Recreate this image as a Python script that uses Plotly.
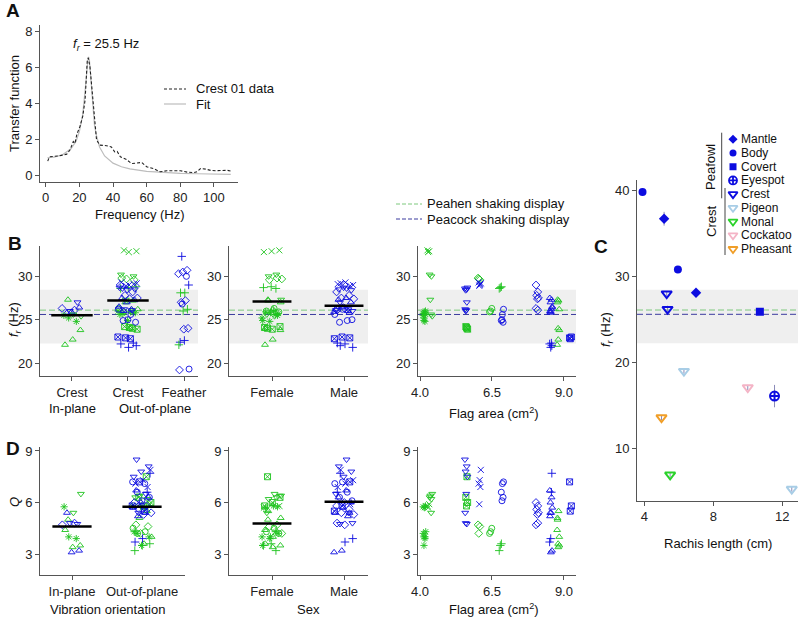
import numpy as np
import plotly.graph_objects as go

W, H = 798, 617
FONT = "Arial, 'Liberation Sans', sans-serif"
GREEN = "#1ec31e"
BLUE = "#0c0ce0"
AXC = "#555555"

# ---- A: transfer function of crest feather 01
freq_data = [1.2, 2.2, 5, 8, 12.5, 14.4, 16.4, 17.4, 18.5, 19.4, 20.4, 22, 23.4, 24.7, 25.3,
             26.3, 27.8, 29.2, 30.2, 32.1, 34.1, 36.1, 39, 41, 42.5, 44.4, 48, 51, 54, 57,
             60, 64, 68, 72, 76, 80, 84, 88, 90, 92, 95, 98, 101, 104, 108, 110]
tf_data = [0.81, 1.05, 1.08, 1.1, 1.2, 1.43, 1.9, 1.8, 2.3, 2.5, 2.75, 3.3, 4.2, 6.4, 6.55,
           6.05, 4.4, 2.7, 2.0, 1.7, 1.7, 1.67, 1.6, 1.33, 1.35, 1.05, 0.9, 0.68, 0.7, 0.74,
           0.5, 0.4, 0.22, 0.28, 0.28, 0.28, 0.2, 0.17, 0.22, 0.4, 0.37, 0.3, 0.28, 0.3, 0.3, 0.26]
freq_fit = [1, 5, 10, 15, 18, 20, 22, 23, 24, 25, 25.5, 26, 27, 28, 29, 30, 32, 35, 40, 45,
            50, 60, 70, 80, 90, 100, 110]
tf_fit = [1.0, 1.03, 1.17, 1.5, 1.9, 2.45, 3.4, 4.2, 5.3, 6.4, 6.6, 6.4, 5.0, 3.6, 2.8, 2.3,
          1.6, 1.1, 0.7, 0.5, 0.38, 0.24, 0.17, 0.13, 0.11, 0.09, 0.08]

# ---- birds (one symbol per individual)
bird_symbol = ["x-thin-open", "triangle-down-open", "asterisk-open", "square-x-open",
               "diamond-open", "circle-open", "cross-thin-open", "triangle-up-open",
               "triangle-down-open", "x-thin-open", "circle-open", "diamond-open",
               "triangle-up-open", "cross-thin-open", "square-x-open"]
bird_sex = ["F"] * 8 + ["M"] * 7
bird_area = [4.29, 4.38, 4.15, 5.62, 6.06, 6.45, 6.8, 8.8,
             5.6, 6.08, 6.86, 8.08, 8.55, 8.55, 9.22]

# ---- crest feather measurements
crest_bird = ([7, 7, 7, 7, 8, 8, 11, 11, 12, 12, 12, 2, 2, 2, 1, 1]
              + [0] * 3 + [1] * 3 + [2] * 6 + [3] * 4 + [4] * 3 + [5] * 3 + [6] * 3 + [7] * 4
              + [8] * 6 + [9] * 5 + [10] * 5 + [11] * 5 + [12] * 6 + [13] * 4 + [14] * 3)
crest_plane = ["in"] * 16 + ["out"] * 63
crest_fr = [27.3, 23.8, 22.7, 22.1, 27.0, 26.0, 26.3, 26.1, 25.8, 26.4, 25.9, 25.5, 24.8, 25.2, 25.4, 25.6,
            33.0, 32.9, 32.8,
            30.2, 30.0, 27.3,
            26.0, 25.9, 25.7, 25.8, 24.9, 25.6,
            24.0, 24.2, 23.9, 24.1,
            29.8, 29.6, 29.7,
            26.3, 26.0, 25.9,
            28.8, 28.7, 28.6,
            27.2, 27.0, 26.2, 24.0,
            28.6, 28.5, 28.4, 28.7, 26.1, 26.2,
            29.2, 29.0, 29.3, 29.1, 28.9,
            26.2, 25.6, 24.9, 24.7, 25.0,
            29.0, 28.2, 27.8, 27.5, 27.4,
            27.5, 27.3, 27.0, 26.5, 26.2, 26.0,
            22.0, 21.8, 22.2, 22.3,
            22.9, 23.0, 22.8]
crest_q = [5.0, 3.5, 3.4, 4.4, 4.75, 4.8, 4.7, 4.8, 5.4, 3.2, 3.1, 5.75, 3.9, 4.0, 6.5, 5.4,
           5.8, 5.9, 5.7,
           6.3, 6.2, 6.4,
           5.8, 5.7, 4.2, 4.0, 3.5, 4.3,
           7.5, 6.3, 6.0, 5.8,
           4.7, 4.6, 4.2,
           4.5, 4.3, 4.2,
           3.6, 3.5, 3.2,
           5.5, 5.1, 4.0, 3.6,
           8.5, 8.1, 7.8, 7.5, 6.5, 5.4,
           7.9, 7.3, 7.1, 6.9, 5.9,
           7.2, 7.1, 6.6, 6.3, 6.1,
           6.0, 5.8, 5.6, 5.4, 5.3,
           6.7, 6.3, 6.0, 5.7, 5.4, 5.2,
           7.7, 3.9, 3.7, 6.6,
           7.2, 5.8, 5.5]

# ---- train feathers (out-of-plane), f_r only
feather_symbol = ["cross-thin-open"] * 4 + ["diamond-open"] * 8 + ["circle-open"] * 3 + ["cross-thin-open"] * 5
feather_sex = ["M"] * 15 + ["F"] * 5
feather_fr = [32.3, 29.0, 22.6, 22.4, 30.7, 30.5, 30.3, 27.2, 27.0, 24.0, 23.9, 19.2,
              30.0, 26.8, 19.3, 28.1, 28.1, 26.2, 26.0, 22.1]

# group means
mean_fr_plane = [25.5, 27.2]
mean_fr_sex = [27.1, 26.6]
mean_q_plane = [4.6, 5.75]
mean_q_sex = [4.78, 6.05]

# shaking display frequencies
peahen_fr = 26.1
peacock_fr = 25.6
shake_range = [22.25, 28.45]

# ---- C: resonant frequency vs rachis length
c_type = ["Body", "Mantle", "Body", "Mantle", "Crest", "Crest", "Covert", "Pigeon", "Pigeon",
          "Cockatoo", "Eyespot", "Pheasant", "Monal"]
c_length = [3.9, 5.15, 5.95, 7.0, 5.3, 5.35, 10.7, 6.3, 12.55, 10.0, 11.55, 5.0, 5.5]
c_fr = [39.8, 36.7, 30.8, 28.1, 28.0, 26.2, 25.9, 19.0, 5.3, 17.1, 16.1, 13.6, 6.95]
c_err = [0.4, 0.8, 0.3, 0.3, 0.3, 0.4, 0.2, 0.3, 0.3, 0.3, 1.3, 0.3, 0.3]
c_legend = ["Mantle", "Body", "Covert", "Eyespot", "Crest", "Pigeon", "Monal", "Cockatoo", "Pheasant"]
c_style = {"Mantle": ("diamond", BLUE), "Body": ("circle", BLUE), "Covert": ("square", BLUE),
           "Eyespot": ("circle-cross-open", BLUE), "Crest": ("triangle-down-open", BLUE),
           "Pigeon": ("triangle-down-open", "#a8cde6"), "Monal": ("triangle-down-open", "#2ad22a"),
           "Cockatoo": ("triangle-down-open", "#f4b4c6"), "Pheasant": ("triangle-down-open", "#f09e28")}


def xd(a, b):
    return [a / W, b / W]


def yd(top, bottom):
    return [1 - bottom / H, 1 - top / H]


def spread(n, half):
    # deterministic horizontal scatter within a category
    return half * (2 * ((np.arange(n) * 0.618034 + 0.3) % 1.0) - 1)


def cat_positions(cat, half):
    cat = np.asarray(cat)
    out = cat.astype(float)
    for c in np.unique(cat):
        idx = cat == c
        out[idx] += spread(idx.sum(), half)
    return out


fig = go.Figure()


def add_points(x, y, sym, col, xa, ya, size=6):
    fig.add_trace(go.Scatter(x=list(x), y=list(y), mode="markers", xaxis=xa, yaxis=ya,
                             marker=dict(symbol=list(sym), color=list(col), size=size,
                                         line=dict(width=0.9, color=list(col))),
                             hoverinfo="skip"))


def add_means(means, half, xa, ya):
    for i, m in enumerate(means):
        fig.add_trace(go.Scatter(x=[i - half, i + half], y=[m, m], mode="lines", xaxis=xa, yaxis=ya,
                                 line=dict(color="black", width=2.5), hoverinfo="skip"))


# A
fig.add_trace(go.Scatter(x=freq_fit, y=tf_fit, mode="lines", line=dict(color="#bdbdbd", width=1.2),
                         xaxis="x", yaxis="y", hoverinfo="skip"))
fig.add_trace(go.Scatter(x=freq_data, y=tf_data, mode="lines",
                         line=dict(color="#222", width=1.1, dash="3px,2px"),
                         xaxis="x", yaxis="y", hoverinfo="skip"))

cb = np.array(crest_bird)
plane = np.array(crest_plane)
fr = np.array(crest_fr)
q = np.array(crest_q)
sym = np.array(bird_symbol)[cb]
sex = np.array(bird_sex)[cb]
area = np.array(bird_area)[cb]
col = np.where(sex == "F", GREEN, BLUE)
fcol = np.where(np.array(feather_sex) == "F", GREEN, BLUE)

plane_cat = np.where(plane == "in", 0, 1)
sex_cat = np.where(sex == "F", 0, 1)
area_x = area + spread(len(area), 0.05)

# B left: orientation (+ train feathers)
add_points(cat_positions(plane_cat, 0.18), fr, sym, col, "x2", "y2")
add_points(2 + spread(len(feather_fr), 0.1), feather_fr, feather_symbol, fcol, "x2", "y2")
add_means(mean_fr_plane, 0.37, "x2", "y2")
# B mid: sex
add_points(cat_positions(sex_cat, 0.14), fr, sym, col, "x3", "y3")
add_means(mean_fr_sex, 0.27, "x3", "y3")
# B right: flag area
add_points(area_x, fr, sym, col, "x4", "y4")
# D left / mid / right
add_points(cat_positions(plane_cat, 0.14), q, sym, col, "x5", "y5")
add_means(mean_q_plane, 0.28, "x5", "y5")
add_points(cat_positions(sex_cat, 0.14), q, sym, col, "x6", "y6")
add_means(mean_q_sex, 0.27, "x6", "y6")
add_points(area_x, q, sym, col, "x7", "y7")

# C
for t in c_legend:
    idx = [i for i, v in enumerate(c_type) if v == t]
    s, c = c_style[t]
    filled = not s.endswith("open")
    fig.add_trace(go.Scatter(x=[c_length[i] for i in idx], y=[c_fr[i] for i in idx], mode="markers",
                             xaxis="x8", yaxis="y8",
                             error_y=dict(type="data", array=[c_err[i] for i in idx], color="#8a8ab8",
                                          thickness=1, width=0),
                             marker=dict(symbol=s, color=c, size=8 if filled else 9,
                                         line=dict(width=0 if filled else 2, color=c)),
                             hoverinfo="skip"))
# C legend markers
for i, t in enumerate(c_legend):
    s, c = c_style[t]
    filled = not s.endswith("open")
    fig.add_trace(go.Scatter(x=[8], y=[-i], mode="markers", xaxis="x9", yaxis="y9",
                             marker=dict(symbol=s, color=c, size=7 if filled else 8,
                                         line=dict(width=0 if filled else 1.8, color=c)),
                             hoverinfo="skip"))


def ax(domain, rng, **kw):
    d = dict(domain=domain, range=rng, showline=True, linecolor=AXC, linewidth=1, ticks="outside",
             ticklen=4, tickcolor=AXC, tickwidth=1, showgrid=False, zeroline=False,
             tickfont=dict(size=13, color="#222"), fixedrange=True, automargin=False)
    d.update(kw)
    return d


yB = yd(246, 376)
yD = yd(447, 575)
layout = dict(
    xaxis=ax(xd(40, 238), [-3.4, 114.3], tickvals=[0, 20, 40, 60, 80, 100], anchor="y"),
    yaxis=ax(yd(25, 181.7), [-0.33, 8.37], tickvals=[0, 2, 4, 6, 8], anchor="x"),
    xaxis2=ax(xd(40, 198), [-0.571, 2.25], tickvals=[0, 1, 2], ticktext=["Crest", "Crest", "Feather"], anchor="y2"),
    yaxis2=ax(yB, [18.5, 33.5], tickvals=[20, 25, 30], anchor="x2"),
    xaxis3=ax(xd(229, 368), [-0.597, 1.333], tickvals=[0, 1], ticktext=["Female", "Male"], anchor="y3"),
    yaxis3=ax(yB, [18.5, 33.5], tickvals=[20, 25, 30], anchor="x3"),
    xaxis4=ax(xd(418, 576), [3.93, 9.42], tickvals=[4, 6.5, 9], ticktext=["4.0", "6.5", "9.0"], anchor="y4"),
    yaxis4=ax(yB, [18.5, 33.5], tickvals=[20, 25, 30], anchor="x4"),
    xaxis5=ax(xd(40, 185), [-0.457, 1.614], tickvals=[0, 1], ticktext=["In-plane", "Out-of-plane"], anchor="y5"),
    yaxis5=ax(yD, [1.78, 9.23], tickvals=[3, 6, 9], anchor="x5"),
    xaxis6=ax(xd(229, 368), [-0.597, 1.333], tickvals=[0, 1], ticktext=["Female", "Male"], anchor="y6"),
    yaxis6=ax(yD, [1.78, 9.23], tickvals=[3, 6, 9], anchor="x6"),
    xaxis7=ax(xd(418, 576), [3.93, 9.42], tickvals=[4, 6.5, 9], ticktext=["4.0", "6.5", "9.0"], anchor="y7"),
    yaxis7=ax(yD, [1.78, 9.23], tickvals=[3, 6, 9], anchor="x7"),
    xaxis8=ax(xd(637, 798), [3.58, 12.91], tickvals=[4, 8, 12], anchor="y8"),
    yaxis8=ax(yd(180, 500.7), [3.95, 41.2], tickvals=[10, 20, 30, 40], anchor="x8"),
    xaxis9=dict(domain=xd(725, 798), range=[0, 73], visible=False, anchor="y9", fixedrange=True),
    yaxis9=dict(domain=yd(132.45, 255.85), range=[-8.5, 0.5], visible=False, anchor="x9", fixedrange=True),
)

shapes = []
for n in ["2", "3", "4", "8"]:
    shapes.append(dict(type="rect", xref=f"x{n} domain", x0=0, x1=1, yref=f"y{n}",
                       y0=shake_range[0], y1=shake_range[1], fillcolor="#efefef", line=dict(width=0), layer="below"))
    shapes.append(dict(type="line", xref=f"x{n} domain", x0=0, x1=1, yref=f"y{n}", y0=peahen_fr, y1=peahen_fr,
                       line=dict(color="#7cc87c", width=1, dash="6px,3px"), layer="below"))
    shapes.append(dict(type="line", xref=f"x{n} domain", x0=0, x1=1, yref=f"y{n}", y0=peacock_fr, y1=peacock_fr,
                       line=dict(color="#3a3a9e", width=1, dash="6px,3px"), layer="below"))


def pline(x0, y0, x1, y1, color, dash="solid", width=1):
    shapes.append(dict(type="line", xref="paper", yref="paper", x0=x0 / W, x1=x1 / W,
                       y0=1 - y0 / H, y1=1 - y1 / H, line=dict(color=color, width=width, dash=dash)))


# legends drawn by hand
pline(164, 89, 186, 89, "#222", "3px,2px", 1.1)
pline(164, 104, 186, 104, "#bdbdbd", "solid", 1.2)
pline(396, 204, 422, 204, "#7cc87c", "4px,2px")
pline(396, 219, 422, 219, "#3a3a9e", "4px,2px")
pline(721.7, 132.7, 721.7, 198.3, "#444")
pline(725, 188, 725, 255, "#444")

anns = []


def ann(text, x, y, size=13, xanchor="center", angle=0, bold=False):
    if bold:
        text = f"<b>{text}</b>"
    anns.append(dict(text=text, x=x / W, y=1 - y / H, xref="paper", yref="paper", showarrow=False,
                     xanchor=xanchor, yanchor="middle", textangle=angle,
                     font=dict(size=size, color="#111", family=FONT)))


ann("A", 13, 11, 19, bold=True)
ann("B", 15, 243, 19, bold=True)
ann("C", 601, 246, 19, bold=True)
ann("D", 13, 448, 19, bold=True)
ann("<i>f<sub>r</sub></i> = 25.5 Hz", 106, 44)
ann("Crest 01 data", 194, 89, xanchor="left")
ann("Fit", 194, 104, xanchor="left")
ann("Frequency (Hz)", 140, 215)
ann("Transfer function", 14, 104, angle=-90)
ann("<i>f<sub>r</sub></i> (Hz)", 14, 320, angle=-90)
ann("In-plane", 72, 408)
ann("Out-of-plane", 155, 408)
ann("Flag area (cm<sup>2</sup>)", 494, 413)
ann("Peahen shaking display", 425, 204, xanchor="left")
ann("Peacock shaking display", 425, 219, xanchor="left")
ann("<i>Q</i>", 14, 502, angle=-90)
ann("Vibration orientation", 107, 609)
ann("Sex", 308, 609)
ann("Flag area (cm<sup>2</sup>)", 494, 609)
ann("<i>f<sub>r</sub></i> (Hz)", 607, 330, angle=-90)
ann("Rachis length (cm)", 718, 543)
ann("Peafowl", 711, 167, angle=-90)
ann("Crest", 711, 222, angle=-90)
for i, t in enumerate(c_legend):
    ann(t, 739, 139.3 + 13.71 * i, size=12, xanchor="left")

fig.update_layout(
    width=W, height=H, margin=dict(l=0, r=0, t=0, b=0, autoexpand=False),
    paper_bgcolor="white", plot_bgcolor="white", showlegend=False,
    font=dict(family=FONT, size=13, color="#222"),
    shapes=shapes, annotations=anns, **layout,
)

# the page body has a default 8px margin; drop it so the figure fills the window
fig.write_html("out.html", config={"displayModeBar": False},
               post_script="document.body.style.margin='0px';document.body.style.overflow='hidden';")
